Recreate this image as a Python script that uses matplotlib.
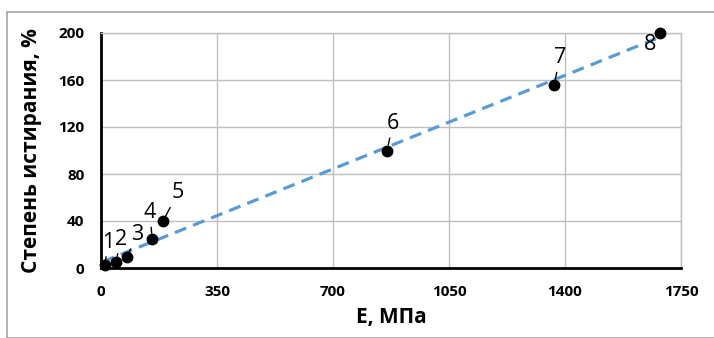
import numpy as np
import matplotlib
matplotlib.use('Agg')
import matplotlib.pyplot as plt
from matplotlib.patches import Rectangle

# данные
E_mpa = [12, 45, 78, 154, 187, 863, 1367, 1687]
stepen = [2.5, 5, 9, 25, 40, 100, 156, 200]
nomera = ['1', '2', '3', '4', '5', '6', '7', '8']
x_ticks = [0, 350, 700, 1050, 1400, 1750]
y_ticks = [0, 40, 80, 120, 160, 200]

# смещения подписей (пиксели)
sdvig = [(3, 23), (5, 23), (10, 23), (-2, 26), (15, 28), (6, 27), (6, 27), (-10, -12)]

plt.rcParams['font.family'] = ['Open Sans', 'DejaVu Sans']

fig = plt.figure(figsize=(7.14, 3.38), dpi=100)
ax = fig.add_axes([101 / 714, 1 - 268 / 338, 580 / 714, 235 / 338])

# рамка диаграммы
fig.patches.append(Rectangle((7 / 714, 0), 710 / 714, 1 - 12 / 338, transform=fig.transFigure,
                             fill=False, edgecolor='#a6a6a6', linewidth=1.2))

# линия тренда
k, b = np.polyfit(E_mpa, stepen, 1)
xt = np.array([min(E_mpa) - 7, max(E_mpa) + 13])
ax.plot(xt, k * xt + b, color='#5b9bd5', linewidth=2.3, dashes=(3.8, 2.3), zorder=3)

ax.plot(E_mpa, stepen, 'o', color='black', markersize=7.5, zorder=4, clip_on=False)

for i in range(len(E_mpa)):
    dx, dy = sdvig[i]
    ax.annotate(nomera[i], (E_mpa[i], stepen[i]), xytext=(dx * 0.72, dy * 0.72),
                textcoords='offset points', ha='center', va='center', fontsize=15.5,
                arrowprops=dict(arrowstyle='-', color='black', lw=1.0, shrinkA=1, shrinkB=4),
                zorder=5)

ax.set_xlim(0, 1750)
ax.set_ylim(0, 200)
ax.set_xticks(x_ticks)
ax.set_yticks(y_ticks)
ax.tick_params(length=0, labelsize=11, pad=12)
for lab in ax.get_xticklabels() + ax.get_yticklabels():
    lab.set_fontweight('bold')
ax.grid(True, color='#bfbfbf', linewidth=1.0)
ax.set_axisbelow(True)
for s in ['top', 'right']:
    ax.spines[s].set_color('#bfbfbf')
    ax.spines[s].set_linewidth(1.0)
for s in ['left', 'bottom']:
    ax.spines[s].set_color('black')
    ax.spines[s].set_linewidth(2.0)

ax.set_xlabel('E, МПа', fontsize=15, fontweight='bold', labelpad=6)
ax.set_ylabel('Степень истирания, %', fontsize=15, fontweight='bold', labelpad=12)

fig.savefig('out.png', dpi=100)
